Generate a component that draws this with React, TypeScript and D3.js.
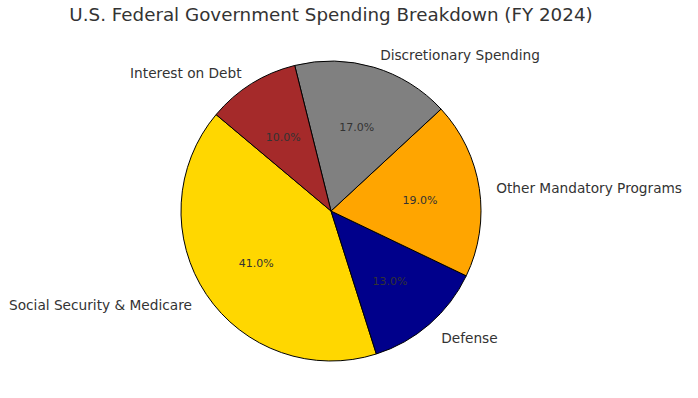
import React from "react";
import * as d3 from "d3";

const categories = [
  "Social Security & Medicare",
  "Defense",
  "Other Mandatory Programs",
  "Discretionary Spending",
  "Interest on Debt",
];
const shares = [41, 13, 19, 17, 10];
const colors = ["#FFD700", "#00008B", "#FFA500", "#808080", "#A52A2A"];

const W = 698;
const H = 398;
const cx = 331;
const cy = 211;
const r = 150;

const App = () => {
  const data = categories.map((name, i) => ({ name, value: shares[i], color: colors[i] }));

  // matplotlib-style: startangle 140, counterclockwise
  const start = ((90 - 140) * Math.PI) / 180;
  const pie = d3
    .pie<any>()
    .value((d) => d.value)
    .sort(null)
    .startAngle(start)
    .endAngle(start - 2 * Math.PI);

  const arc = d3.arc<any>().innerRadius(0).outerRadius(r);
  const arcs = pie(data);

  const font = "DejaVu Sans, sans-serif";

  return (
    <svg
      width={W}
      height={H}
      style={{ position: "absolute", left: 0, top: 0, background: "#fff" }}
    >
      <text
        x={cx}
        y={16}
        textAnchor="middle"
        dominantBaseline="middle"
        fontFamily={font}
        fontSize={18.3}
        fill="#333"
      >
        U.S. Federal Government Spending Breakdown (FY 2024)
      </text>
      <g transform={`translate(${cx},${cy})`}>
        {arcs.map((a, i) => (
          <path key={i} d={arc(a) || ""} fill={a.data.color} stroke="#000" strokeWidth={1} />
        ))}
        {arcs.map((a, i) => {
          const mid = (a.startAngle + a.endAngle) / 2;
          const sx = Math.sin(mid);
          const sy = -Math.cos(mid);
          return (
            <g key={"t" + i}>
              <text
                x={sx * r * 1.1 + (sx >= 0 ? 2 : -2)}
                y={sy * r * 1.1 + 3}
                textAnchor={sx >= 0 ? "start" : "end"}
                dominantBaseline="middle"
                fontFamily={font}
                fontSize={13.7}
                fill="#333"
              >
                {a.data.name}
              </text>
              <text
                x={sx * r * 0.6}
                y={sy * r * 0.6 + 3}
                textAnchor="middle"
                dominantBaseline="middle"
                fontFamily={font}
                fontSize={11}
                fill="#333"
              >
                {a.data.value.toFixed(1) + "%"}
              </text>
            </g>
          );
        })}
      </g>
    </svg>
  );
};

export default App;
